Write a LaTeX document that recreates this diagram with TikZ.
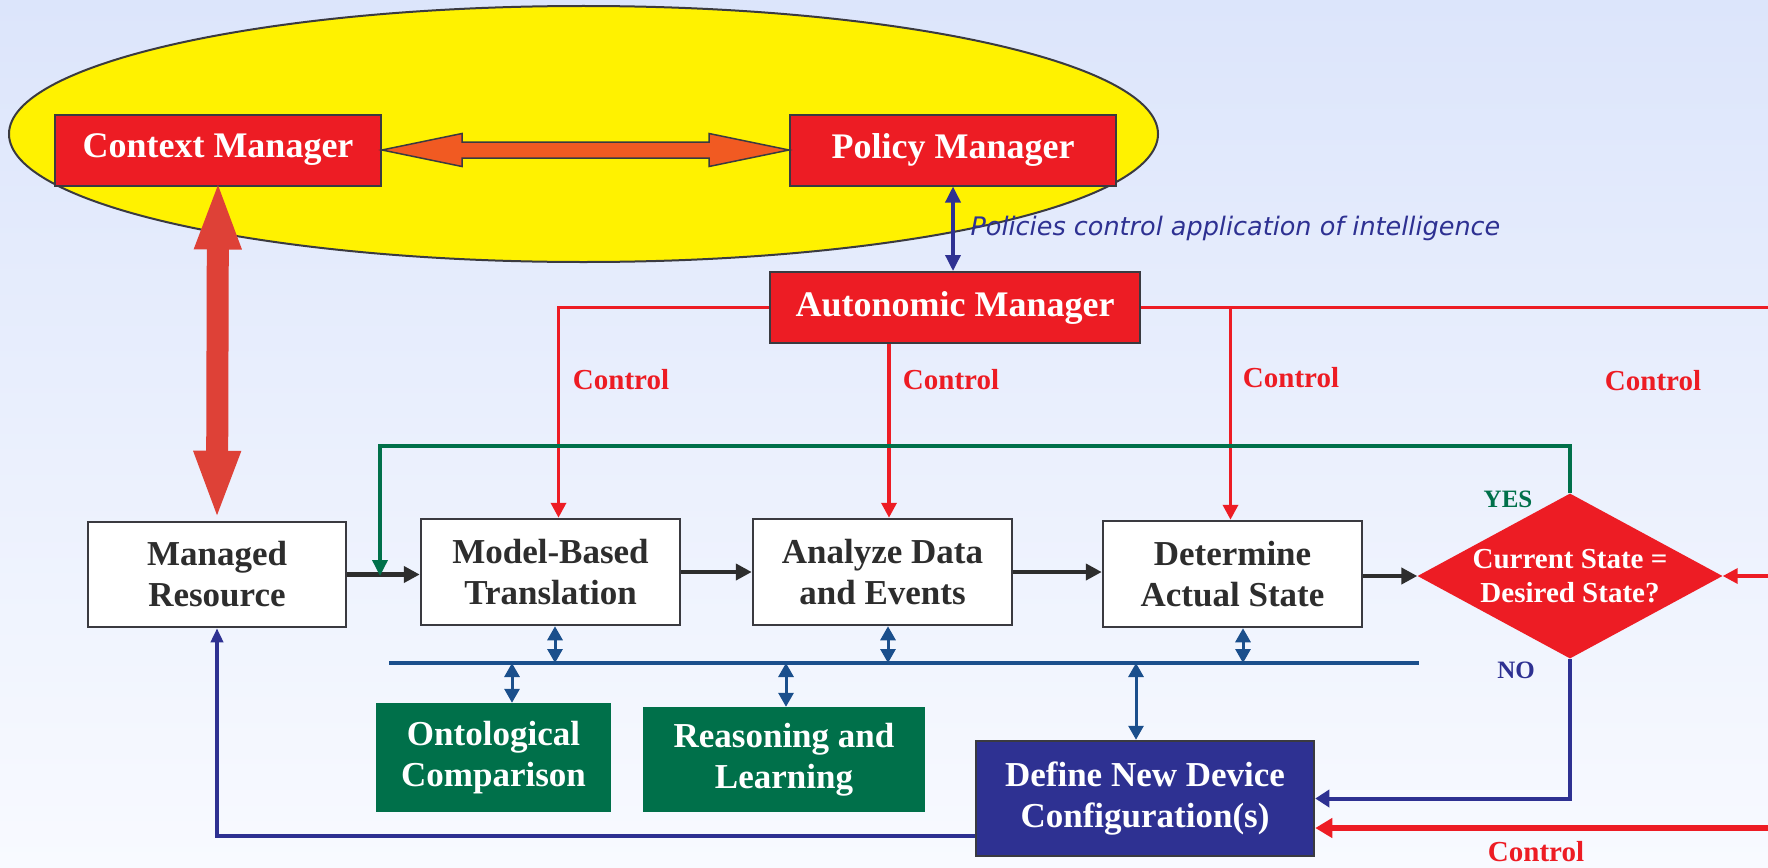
\documentclass[tikz,border=0pt]{standalone}
\usepackage{fontspec}
\setmainfont{Liberation Serif}
\newfontfamily\notefont{DejaVu Sans}
\usetikzlibrary{arrows.meta,calc,shapes.geometric}

\definecolor{skytop}{HTML}{DCE5FB}
\definecolor{skybot}{HTML}{F8FAFF}
\definecolor{sun}{HTML}{FFF200}
\definecolor{edge}{HTML}{3A3A40}
\definecolor{mgrred}{HTML}{ED1C24}
\definecolor{fatred}{HTML}{DE4137}
\definecolor{fatorange}{HTML}{F15A22}
\definecolor{navy}{HTML}{2E3192}
\definecolor{steel}{HTML}{1B4F8C}
\definecolor{leaf}{HTML}{00704A}
\definecolor{ink}{HTML}{2D2D2D}

\begin{document}
\begin{tikzpicture}[x=1pt,y=-1pt,
    mgr/.style={fill=mgrred,draw=edge,line width=2pt,text=white,inner sep=0pt,
      minimum width=326pt,minimum height=71pt,font=\fontsize{36}{40}\selectfont\bfseries},
    stage/.style={fill=white,draw=edge,line width=2.5pt,text=ink,align=center,inner sep=0pt,
      minimum width=259pt,minimum height=106pt,font=\fontsize{35}{41}\selectfont\bfseries},
    kbase/.style={fill=leaf,text=white,align=center,inner sep=0pt,
      font=\fontsize{35}{41}\selectfont\bfseries},
    decision/.style={diamond,fill=mgrred,text=white,align=center,inner sep=-6pt,shape aspect=1.85,
      minimum width=305pt,minimum height=165pt,font=\fontsize{29}{34}\selectfont\bfseries},
    ctrltext/.style={text=mgrred,font=\fontsize{29}{32}\selectfont\bfseries},
    flow/.style={draw=ink,line width=4.5pt,-{Triangle[width=16pt,length=16pt]}},
    ctrl/.style={draw=mgrred,line width=3.5pt,-{Triangle[width=15pt,length=15pt]}},
    ctrlline/.style={draw=mgrred,line width=3.5pt},
    yesline/.style={draw=leaf,line width=3.5pt,-{Triangle[width=15pt,length=16pt]}},
    noline/.style={draw=navy,line width=4pt,-{Triangle[width=17pt,length=14pt]}},
    bus/.style={draw=steel,line width=4pt},
    busarrow/.style={draw=steel,line width=3pt,{Triangle[width=15pt,length=14pt]}-{Triangle[width=15pt,length=14pt]}}]

  % backdrop and the manager cloud
  \shade[top color=skytop,bottom color=skybot] (0,0) rectangle (1768,867);
  \useasboundingbox (0,0) rectangle (1768,867);
  \draw[fill=sun,draw=edge,line width=2pt] (583.5,134) ellipse [x radius=574.5,y radius=128];

  % managers
  \node[mgr] (ctx) at (218,150) {Context Manager};
  \node[mgr] (pol) at (953,150) {Policy Manager};
  \node[mgr,minimum width=370pt] (aut) at (955,307.5) {Autonomic Manager};
  \node[text=navy,anchor=west,font=\notefont\itshape\fontsize{25.5}{30}\selectfont] (note) at (967,228)
    {Policies control application of intelligence};

  % control loop
  \node[stage,minimum width=258pt,minimum height=105pt] (res) at (217,574.5) {Managed\\Resource};
  \node[stage] (mbt) at (550.5,572) {Model-Based\\Translation};
  \node[stage] (ade) at (882.5,572) {Analyze Data\\and Events};
  \node[stage] (das) at (1232.5,574) {Determine\\Actual State};
  \node[decision] (cmp) at (1570,576) {Current State =\\Desired State?};
  \node[kbase,minimum width=235pt,minimum height=109pt] (ont) at (493.5,757.5) {Ontological\\Comparison};
  \node[kbase,minimum width=282pt,minimum height=105pt] (rsn) at (784,759.5) {Reasoning and\\Learning};
  \node[fill=navy,draw=edge,line width=2.5pt,text=white,align=center,inner sep=0pt,
    minimum width=338pt,minimum height=115pt,font=\fontsize{35}{41}\selectfont\bfseries]
    (def) at (1145,798.5) {Define New Device\\Configuration(s)};

  % labels
  \node[ctrltext] (lblA) at (621,380) {Control};
  \node[ctrltext] (lblB) at (951,380) {Control};
  \node[ctrltext] (lblC) at (1291,378) {Control};
  \node[ctrltext] (lblD) at (1653,381) {Control};
  \node[ctrltext] (lblE) at (1536,852) {Control};
  \node[text=leaf,font=\fontsize{25}{28}\selectfont\bfseries] (yes) at (1508,499) {YES};
  \node[text=navy,font=\fontsize{25}{28}\selectfont\bfseries] (no) at (1516,670) {NO};

  \coordinate (edgeT) at (1768,307.5);
  \coordinate (edgeD) at (1768,576);
  \coordinate (edgeB) at (1768,828);
  \coordinate (loop) at (380,446);
  \coordinate (join) at (380,576);
  \coordinate (busL) at (389,663);
  \coordinate (busR) at (1419,663);

  % big arrows
  \draw[fill=fatorange,draw=edge,line width=1.5pt] (ctx.east) -- ++(80,-16.5) -- ++(0,8.5)
    -- ($(pol.west)+(-80,-8)$) -- ++(0,-8.5) -- (pol.west) -- ++(-80,16.5) -- ++(0,-8.5)
    -- ($(ctx.east)+(80,8)$) -- ++(0,8.5) -- cycle;
  \draw[draw=fatred,line width=22pt,
    arrows={Triangle[width=42pt,length=70pt]-Triangle[width=42pt,length=70pt]}]
    ([yshift=7pt]ctx.south) -- (res.north);
  \draw[draw=navy,line width=3.5pt,
    arrows={Triangle[width=15pt,length=16pt]-Triangle[width=15pt,length=16pt]}]
    (pol.south) -- (pol.south |- aut.north);

  % control lines
  \draw[ctrl] (aut.west) -| ([xshift=8pt]mbt.north);
  \draw[ctrl] ([xshift=6.5pt]ade.north |- aut.south) -- ([xshift=6.5pt]ade.north);
  \draw[ctrlline] (aut.east) -- (edgeT);
  \draw[ctrl] ([xshift=-2pt]das.north |- aut.east) -- ([xshift=-2pt]das.north);
  \draw[ctrl] (edgeD) -- (cmp.east);
  \draw[draw=mgrred,line width=5.5pt,-{Triangle[width=19pt,length=17pt]}] (edgeB) -- (edgeB -| def.east);

  % flow
  \draw[flow] (res.east) -- (res.east -| mbt.west);
  \draw[flow] (mbt) -- (ade);
  \draw[flow] (ade.east) -- (ade.east -| das.west);
  \draw[flow] (das.east |- cmp.west) -- (cmp.west);
  \draw[yesline] (cmp.north) |- (loop) -- (join);
  \draw[noline] (cmp.south) |- (def.east);
  \draw[draw=navy,line width=3.5pt,-{Triangle[width=12pt,length=14pt]}] ([yshift=-37.5pt]def.west) -| (res.south);

  % knowledge bus
  \draw[bus] (busL) -- (busR);
  \draw[busarrow] ([xshift=4.5pt]mbt.south) -- ([xshift=4.5pt]mbt.south |- busL);
  \draw[busarrow] ([xshift=5.5pt]ade.south) -- ([xshift=5.5pt]ade.south |- busL);
  \draw[busarrow] ([xshift=10.5pt]das.south) -- ([xshift=10.5pt]das.south |- busL);
  \draw[busarrow] ([xshift=18.5pt]ont.north |- busL) -- ([xshift=18.5pt]ont.north);
  \draw[busarrow] ([xshift=2pt]rsn.north |- busL) -- ([xshift=2pt]rsn.north);
  \draw[busarrow] ([xshift=-9pt]def.north |- busL) -- ([xshift=-9pt]def.north);
\end{tikzpicture}
\end{document}
